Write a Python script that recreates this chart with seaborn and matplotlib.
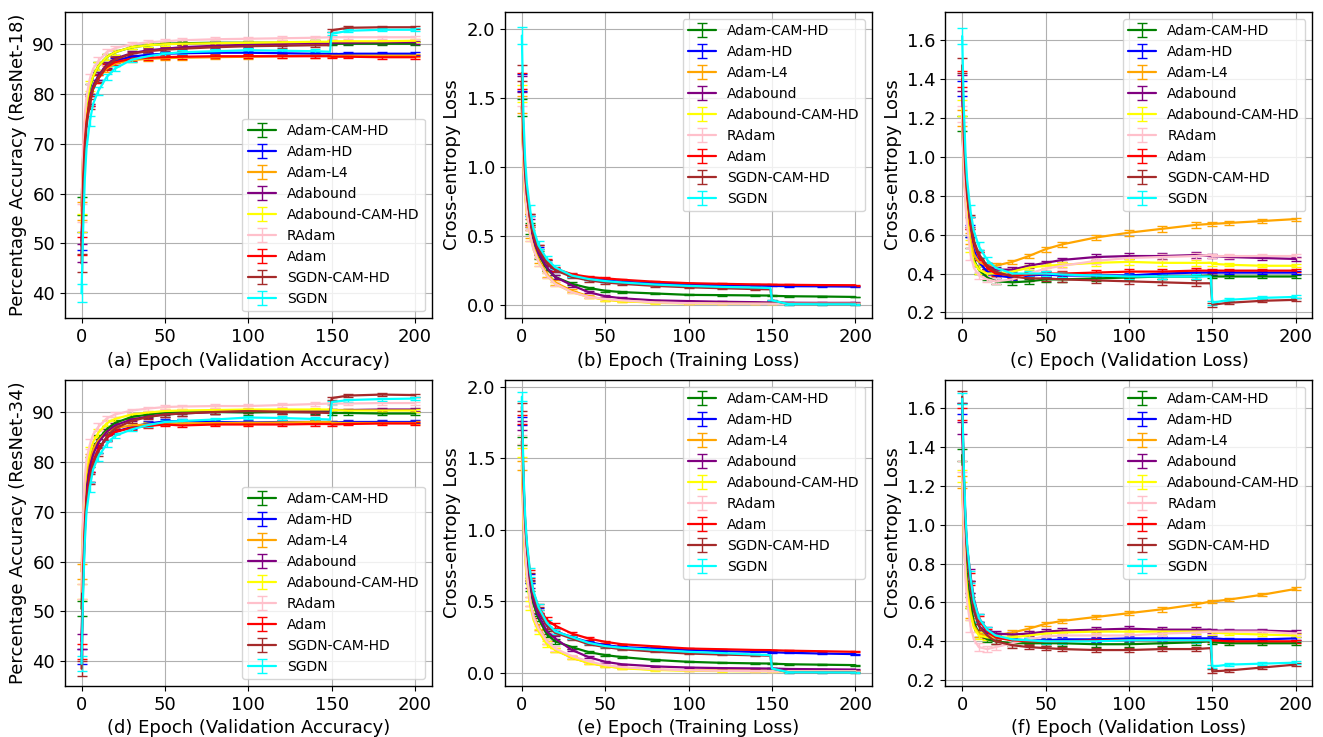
import matplotlib
matplotlib.use("Agg")
import matplotlib.pyplot as plt
import seaborn as sns

epochs = [0, 1, 2, 3, 5, 7, 10, 15, 20, 30, 40, 50, 60, 80, 100, 120, 140, 149, 150, 160, 180, 200]
# epochs that carry an error bar
bar_epochs = [0, 5, 10, 15, 20, 30, 40, 50, 60, 80, 100, 120, 140, 150, 160, 180, 200]

optimizers = ["Adam-CAM-HD", "Adam-HD", "Adam-L4", "Adabound", "Adabound-CAM-HD",
              "RAdam", "Adam", "SGDN-CAM-HD", "SGDN"]
colors = ["green", "blue", "orange", "purple", "yellow", "pink", "red", "brown", "cyan"]

# (a) ResNet-18 validation accuracy
acc18 = {
    "Adam-CAM-HD": [57.5, 68, 74, 77.5, 81, 83.5, 85.5, 87.3, 88.3, 89.3, 89.7, 90.0, 90.1, 90.2, 90.2, 90.2, 90.3, 90.3, 90.0, 90.0, 90.0, 90.0],
    "Adam-HD": [50.5, 62, 70, 74.5, 78.5, 81.5, 83.5, 85.5, 86.6, 87.4, 87.8, 88.0, 88.1, 88.2, 88.2, 88.1, 88.0, 88.0, 87.9, 88.0, 88.0, 88.0],
    "Adam-L4": [56.5, 66, 72, 75.5, 79, 81, 83, 85, 86, 86.7, 87.0, 87.1, 87.2, 87.3, 87.4, 87.5, 87.6, 87.6, 87.6, 87.6, 87.6, 87.6],
    "Adabound": [48, 62, 70, 75, 79, 81.5, 83.5, 85.8, 87.0, 88.1, 88.7, 89.0, 89.3, 89.6, 89.8, 90.0, 90.1, 90.1, 90.2, 90.2, 90.3, 90.3],
    "Adabound-CAM-HD": [54, 68, 74.5, 78, 81.5, 83.5, 85.5, 87.3, 88.3, 89.3, 89.7, 89.9, 90.0, 90.1, 90.2, 90.3, 90.4, 90.4, 90.5, 90.5, 90.5, 90.6],
    "RAdam": [56, 70, 76, 79.5, 83, 85, 86.5, 88.3, 89.1, 89.9, 90.3, 90.5, 90.7, 90.9, 91.0, 91.1, 91.2, 91.3, 91.3, 91.3, 91.3, 91.3],
    "Adam": [49.5, 63, 70.5, 74.5, 78.5, 81, 83, 85.3, 86.3, 87.0, 87.2, 87.3, 87.4, 87.5, 87.5, 87.5, 87.5, 87.5, 87.4, 87.4, 87.3, 87.3],
    "SGDN-CAM-HD": [46, 60, 68.5, 73.5, 78, 81, 83.2, 85.5, 86.8, 88.0, 88.5, 88.8, 89.0, 89.3, 89.5, 89.6, 89.7, 89.7, 92.7, 93.2, 93.3, 93.3],
    "SGDN": [40, 53, 63, 69, 74.5, 78, 80.5, 83.3, 85.0, 86.8, 87.5, 88.0, 88.3, 88.5, 88.7, 88.6, 88.5, 88.4, 92.0, 92.6, 92.8, 92.8],
}
err_acc18 = [1.8, 1.5, 1.3, 1.2, 1.0, 0.9, 0.8, 0.6, 0.5, 0.4, 0.4, 0.4, 0.4, 0.4, 0.4, 0.4, 0.4, 0.4, 0.3, 0.3, 0.3, 0.3]

# (b) ResNet-18 training loss
train18 = {
    "Adam-CAM-HD": [1.43, 1.05, 0.85, 0.72, 0.55, 0.45, 0.36, 0.26, 0.2, 0.15, 0.12, 0.1, 0.09, 0.08, 0.07, 0.068, 0.066, 0.065, 0.063, 0.06, 0.058, 0.055],
    "Adam-HD": [1.61, 1.15, 0.92, 0.78, 0.6, 0.49, 0.39, 0.3, 0.25, 0.21, 0.19, 0.175, 0.165, 0.155, 0.145, 0.14, 0.137, 0.135, 0.135, 0.133, 0.132, 0.13],
    "Adam-L4": [1.45, 1.0, 0.8, 0.68, 0.52, 0.42, 0.33, 0.22, 0.16, 0.1, 0.06, 0.035, 0.025, 0.015, 0.01, 0.01, 0.01, 0.01, 0.01, 0.01, 0.01, 0.01],
    "Adabound": [1.6, 1.1, 0.88, 0.75, 0.58, 0.47, 0.37, 0.27, 0.2, 0.14, 0.09, 0.06, 0.045, 0.03, 0.025, 0.02, 0.017, 0.015, 0.015, 0.013, 0.012, 0.012],
    "Adabound-CAM-HD": [1.53, 1.0, 0.78, 0.65, 0.5, 0.4, 0.31, 0.21, 0.15, 0.09, 0.055, 0.035, 0.025, 0.012, 0.008, 0.006, 0.005, 0.005, 0.005, 0.005, 0.005, 0.005],
    "RAdam": [1.5, 1.0, 0.8, 0.67, 0.5, 0.4, 0.31, 0.21, 0.15, 0.09, 0.055, 0.04, 0.03, 0.015, 0.01, 0.007, 0.006, 0.005, 0.005, 0.005, 0.005, 0.005],
    "Adam": [1.62, 1.18, 0.95, 0.8, 0.62, 0.5, 0.4, 0.31, 0.26, 0.22, 0.2, 0.19, 0.18, 0.165, 0.155, 0.15, 0.146, 0.145, 0.144, 0.143, 0.141, 0.14],
    "SGDN-CAM-HD": [1.68, 1.2, 0.95, 0.8, 0.62, 0.5, 0.4, 0.3, 0.25, 0.2, 0.175, 0.16, 0.15, 0.135, 0.125, 0.118, 0.112, 0.11, 0.03, 0.003, 0.002, 0.002],
    "SGDN": [1.95, 1.35, 1.05, 0.88, 0.68, 0.55, 0.43, 0.33, 0.27, 0.21, 0.185, 0.17, 0.16, 0.145, 0.135, 0.128, 0.123, 0.12, 0.03, 0.003, 0.002, 0.002],
}
err_train18 = [0.06, 0.05, 0.04, 0.04, 0.04, 0.03, 0.03, 0.02, 0.015, 0.01, 0.01, 0.008, 0.006, 0.005, 0.004, 0.004, 0.004, 0.004, 0.004, 0.003, 0.003, 0.003]

# (c) ResNet-18 validation loss
val18 = {
    "Adam-CAM-HD": [1.17, 0.95, 0.8, 0.7, 0.56, 0.47, 0.42, 0.38, 0.36, 0.355, 0.36, 0.37, 0.37, 0.375, 0.38, 0.385, 0.385, 0.39, 0.385, 0.385, 0.385, 0.385],
    "Adam-HD": [1.35, 1.05, 0.88, 0.76, 0.62, 0.52, 0.46, 0.41, 0.39, 0.38, 0.39, 0.395, 0.39, 0.39, 0.39, 0.4, 0.405, 0.405, 0.405, 0.405, 0.405, 0.405],
    "Adam-L4": [1.2, 0.95, 0.8, 0.7, 0.58, 0.5, 0.46, 0.44, 0.44, 0.46, 0.49, 0.525, 0.55, 0.585, 0.61, 0.63, 0.65, 0.655, 0.655, 0.66, 0.67, 0.68],
    "Adabound": [1.38, 1.1, 0.92, 0.8, 0.66, 0.56, 0.49, 0.44, 0.42, 0.42, 0.44, 0.455, 0.47, 0.485, 0.49, 0.49, 0.495, 0.49, 0.49, 0.485, 0.48, 0.475],
    "Adabound-CAM-HD": [1.25, 0.95, 0.78, 0.67, 0.54, 0.46, 0.42, 0.4, 0.4, 0.41, 0.43, 0.44, 0.445, 0.455, 0.46, 0.455, 0.455, 0.455, 0.45, 0.445, 0.44, 0.44],
    "RAdam": [1.22, 0.92, 0.75, 0.64, 0.5, 0.43, 0.39, 0.37, 0.36, 0.37, 0.4, 0.425, 0.44, 0.465, 0.48, 0.485, 0.49, 0.495, 0.49, 0.49, 0.49, 0.49],
    "Adam": [1.40, 1.1, 0.92, 0.8, 0.66, 0.56, 0.49, 0.43, 0.4, 0.39, 0.395, 0.4, 0.4, 0.405, 0.41, 0.41, 0.415, 0.415, 0.415, 0.415, 0.415, 0.415],
    "SGDN-CAM-HD": [1.47, 1.15, 0.95, 0.82, 0.67, 0.57, 0.5, 0.44, 0.41, 0.385, 0.375, 0.375, 0.37, 0.365, 0.36, 0.355, 0.35, 0.35, 0.24, 0.25, 0.26, 0.265],
    "SGDN": [1.62, 1.25, 1.02, 0.88, 0.72, 0.62, 0.54, 0.47, 0.43, 0.4, 0.4, 0.4, 0.395, 0.39, 0.385, 0.385, 0.385, 0.385, 0.25, 0.265, 0.275, 0.28],
}
err_val18 = [0.04, 0.04, 0.03, 0.03, 0.03, 0.02, 0.02, 0.015, 0.015, 0.012, 0.012, 0.012, 0.012, 0.015, 0.015, 0.015, 0.015, 0.015, 0.01, 0.008, 0.008, 0.008]

# (d) ResNet-34 validation accuracy
acc34 = {
    "Adam-CAM-HD": [50.5, 64, 71.5, 76, 80, 82.5, 84.5, 86.5, 87.8, 89.0, 89.5, 89.9, 90.0, 90.0, 89.9, 90.0, 90.0, 90.0, 89.8, 89.8, 89.7, 89.7],
    "Adam-HD": [41, 57, 67, 72.5, 77, 80, 82.5, 84.8, 86.0, 87.0, 87.7, 88.1, 88.2, 88.0, 87.9, 88.0, 88.0, 88.0, 87.9, 88.0, 88.0, 88.0],
    "Adam-L4": [58, 68, 74, 77.5, 80.5, 82.5, 84.3, 86, 86.8, 87.3, 87.5, 87.7, 87.7, 87.8, 87.8, 87.9, 88.0, 88.0, 87.8, 87.8, 87.8, 87.8],
    "Adabound": [44, 60, 69, 74.5, 79, 81.5, 83.8, 86, 87.3, 88.5, 89.1, 89.5, 89.7, 90.0, 90.2, 90.3, 90.3, 90.3, 90.4, 90.4, 90.5, 90.5],
    "Adabound-CAM-HD": [54, 69, 75.5, 79, 82, 84, 85.8, 87.7, 88.6, 89.5, 89.9, 90.2, 90.3, 90.4, 90.5, 90.5, 90.5, 90.5, 90.4, 90.3, 90.3, 90.3],
    "RAdam": [54, 70, 77, 80.5, 83.5, 85.5, 87, 88.7, 89.5, 90.3, 90.7, 91.0, 91.1, 91.2, 91.2, 91.4, 91.6, 91.7, 91.7, 91.7, 91.8, 91.8],
    "Adam": [42, 58, 67.5, 72.5, 77, 80, 82.5, 84.8, 86.0, 86.8, 87.2, 87.5, 87.3, 87.5, 87.5, 87.5, 87.6, 87.6, 87.5, 87.6, 87.7, 87.7],
    "SGDN-CAM-HD": [38.5, 56, 66, 71.5, 76.5, 79.5, 82, 85, 86.7, 88.2, 89.0, 89.5, 89.7, 90.0, 90.2, 90.0, 89.9, 89.8, 92.8, 93.3, 93.5, 93.4],
    "SGDN": [39.5, 54, 64, 70, 75, 78.5, 81, 83.5, 85.2, 86.5, 87.4, 88.0, 88.2, 88.5, 88.9, 88.8, 88.6, 88.5, 92.0, 92.4, 92.6, 92.7],
}
err_acc34 = [1.5, 1.5, 1.3, 1.2, 1.0, 0.9, 0.8, 0.6, 0.5, 0.4, 0.4, 0.4, 0.4, 0.4, 0.4, 0.4, 0.4, 0.4, 0.3, 0.3, 0.3, 0.3]

# (e) ResNet-34 training loss
train34 = {
    "Adam-CAM-HD": [1.62, 1.2, 0.95, 0.8, 0.6, 0.48, 0.38, 0.27, 0.22, 0.18, 0.145, 0.124, 0.11, 0.09, 0.077, 0.07, 0.066, 0.065, 0.064, 0.06, 0.057, 0.054],
    "Adam-HD": [1.76, 1.3, 1.03, 0.87, 0.66, 0.53, 0.43, 0.33, 0.29, 0.25, 0.215, 0.194, 0.18, 0.17, 0.16, 0.152, 0.147, 0.145, 0.144, 0.14, 0.135, 0.131],
    "Adam-L4": [1.45, 1.05, 0.82, 0.68, 0.5, 0.4, 0.32, 0.22, 0.16, 0.105, 0.07, 0.047, 0.035, 0.022, 0.018, 0.017, 0.016, 0.016, 0.016, 0.017, 0.018, 0.019],
    "Adabound": [1.73, 1.25, 0.98, 0.82, 0.62, 0.5, 0.4, 0.29, 0.24, 0.16, 0.11, 0.077, 0.06, 0.045, 0.037, 0.033, 0.031, 0.03, 0.03, 0.027, 0.025, 0.023],
    "Adabound-CAM-HD": [1.54, 1.05, 0.8, 0.65, 0.47, 0.37, 0.29, 0.2, 0.16, 0.107, 0.07, 0.047, 0.032, 0.02, 0.015, 0.012, 0.01, 0.01, 0.01, 0.01, 0.01, 0.01],
    "RAdam": [1.63, 1.1, 0.84, 0.69, 0.5, 0.39, 0.31, 0.22, 0.17, 0.117, 0.08, 0.054, 0.04, 0.025, 0.018, 0.014, 0.012, 0.011, 0.011, 0.011, 0.011, 0.011],
    "Adam": [1.77, 1.32, 1.05, 0.89, 0.69, 0.56, 0.46, 0.37, 0.33, 0.275, 0.24, 0.217, 0.2, 0.185, 0.17, 0.165, 0.16, 0.159, 0.158, 0.155, 0.151, 0.147],
    "SGDN-CAM-HD": [1.86, 1.35, 1.05, 0.88, 0.67, 0.54, 0.44, 0.33, 0.28, 0.24, 0.2, 0.18, 0.165, 0.148, 0.135, 0.128, 0.122, 0.12, 0.03, 0.004, 0.003, 0.003],
    "SGDN": [1.93, 1.4, 1.1, 0.92, 0.7, 0.57, 0.46, 0.35, 0.29, 0.25, 0.21, 0.187, 0.175, 0.16, 0.147, 0.138, 0.128, 0.124, 0.03, 0.004, 0.003, 0.002],
}
err_train34 = [0.03, 0.03, 0.03, 0.03, 0.03, 0.025, 0.02, 0.02, 0.015, 0.01, 0.008, 0.006, 0.005, 0.004, 0.004, 0.003, 0.003, 0.003, 0.003, 0.003, 0.003, 0.003]

# (f) ResNet-34 validation loss
val34 = {
    "Adam-CAM-HD": [1.36, 1.05, 0.85, 0.72, 0.6, 0.5, 0.44, 0.41, 0.4, 0.39, 0.39, 0.39, 0.39, 0.385, 0.385, 0.39, 0.395, 0.4, 0.395, 0.39, 0.39, 0.39],
    "Adam-HD": [1.6, 1.25, 1.0, 0.85, 0.68, 0.56, 0.48, 0.44, 0.42, 0.41, 0.405, 0.405, 0.41, 0.41, 0.415, 0.415, 0.415, 0.415, 0.415, 0.41, 0.41, 0.415],
    "Adam-L4": [1.22, 0.95, 0.78, 0.67, 0.55, 0.48, 0.44, 0.43, 0.43, 0.445, 0.465, 0.49, 0.505, 0.525, 0.545, 0.565, 0.59, 0.605, 0.605, 0.615, 0.64, 0.67],
    "Adabound": [1.5, 1.2, 1.0, 0.88, 0.74, 0.62, 0.52, 0.46, 0.44, 0.435, 0.44, 0.45, 0.455, 0.46, 0.465, 0.46, 0.46, 0.46, 0.455, 0.455, 0.455, 0.45],
    "Adabound-CAM-HD": [1.25, 0.95, 0.76, 0.65, 0.54, 0.47, 0.43, 0.42, 0.42, 0.42, 0.43, 0.44, 0.445, 0.45, 0.45, 0.45, 0.45, 0.45, 0.445, 0.44, 0.435, 0.43],
    "RAdam": [1.3, 0.95, 0.72, 0.6, 0.48, 0.41, 0.37, 0.36, 0.37, 0.39, 0.41, 0.425, 0.43, 0.43, 0.43, 0.44, 0.445, 0.45, 0.45, 0.45, 0.45, 0.44],
    "Adam": [1.57, 1.25, 1.02, 0.88, 0.72, 0.6, 0.51, 0.45, 0.42, 0.405, 0.4, 0.4, 0.4, 0.405, 0.405, 0.405, 0.405, 0.405, 0.405, 0.4, 0.4, 0.4],
    "SGDN-CAM-HD": [1.66, 1.25, 1.0, 0.85, 0.68, 0.56, 0.48, 0.43, 0.4, 0.38, 0.37, 0.365, 0.36, 0.355, 0.355, 0.36, 0.36, 0.365, 0.245, 0.25, 0.265, 0.28],
    "SGDN": [1.65, 1.3, 1.05, 0.9, 0.73, 0.61, 0.52, 0.46, 0.43, 0.41, 0.405, 0.4, 0.4, 0.4, 0.405, 0.405, 0.405, 0.405, 0.27, 0.28, 0.285, 0.29],
}
err_val34 = [0.03, 0.03, 0.03, 0.03, 0.03, 0.02, 0.02, 0.015, 0.015, 0.012, 0.012, 0.012, 0.012, 0.012, 0.012, 0.012, 0.012, 0.012, 0.01, 0.008, 0.008, 0.008]

sns.set_style("ticks", {"axes.grid": True, "grid.color": "#b0b0b0",
                        "axes.edgecolor": "black", "xtick.color": "black",
                        "ytick.color": "black", "text.color": "black",
                        "axes.labelcolor": "black"})
plt.rcParams['font.family'] = ['DejaVu Sans']

panels = [
    (acc18, err_acc18, "(a) Epoch (Validation Accuracy)", "Percentage Accuracy (ResNet-18)",
     (35, 96.4), [40, 50, 60, 70, 80, 90], "lower right"),
    (train18, err_train18, "(b) Epoch (Training Loss)", "Cross-entropy Loss",
     (-0.1, 2.123), [0.0, 0.5, 1.0, 1.5, 2.0], "upper right"),
    (val18, err_val18, "(c) Epoch (Validation Loss)", "Cross-entropy Loss",
     (0.17, 1.745), [0.2, 0.4, 0.6, 0.8, 1.0, 1.2, 1.4, 1.6], "upper right"),
    (acc34, err_acc34, "(d) Epoch (Validation Accuracy)", "Percentage Accuracy (ResNet-34)",
     (35, 96.5), [40, 50, 60, 70, 80, 90], "lower right"),
    (train34, err_train34, "(e) Epoch (Training Loss)", "Cross-entropy Loss",
     (-0.093, 2.05), [0.0, 0.5, 1.0, 1.5, 2.0], "upper right"),
    (val34, err_val34, "(f) Epoch (Validation Loss)", "Cross-entropy Loss",
     (0.169, 1.748), [0.2, 0.4, 0.6, 0.8, 1.0, 1.2, 1.4, 1.6], "upper right"),
]

bar_mask = [e in bar_epochs for e in epochs]

fig, axes = plt.subplots(2, 3, figsize=(13.23, 7.37), dpi=100)
fig.subplots_adjust(left=0.049, right=0.992, top=0.984, bottom=0.069, wspace=0.2, hspace=0.2)

for ax, (data, err, xlabel, ylabel, ylim, yticks, loc) in zip(axes.flat, panels):
    for name, color in zip(optimizers, colors):
        ax.errorbar(epochs, data[name], yerr=err, color=color, label=name,
                    linewidth=1.6, elinewidth=1.0, capsize=3.5, errorevery=bar_mask)
    ax.set_xlim(-10, 210)
    ax.set_ylim(*ylim)
    ax.set_xticks([0, 50, 100, 150, 200])
    ax.set_yticks(yticks)
    ax.set_xlabel(xlabel, fontsize=13)
    ax.set_ylabel(ylabel, fontsize=13)
    ax.tick_params(labelsize=13, length=3.5, width=0.8)
    for sp in ax.spines.values():
        sp.set_linewidth(1.0)
    ax.legend(loc=loc, fontsize=10)

plt.savefig("out.png", dpi=100)
plt.close()
